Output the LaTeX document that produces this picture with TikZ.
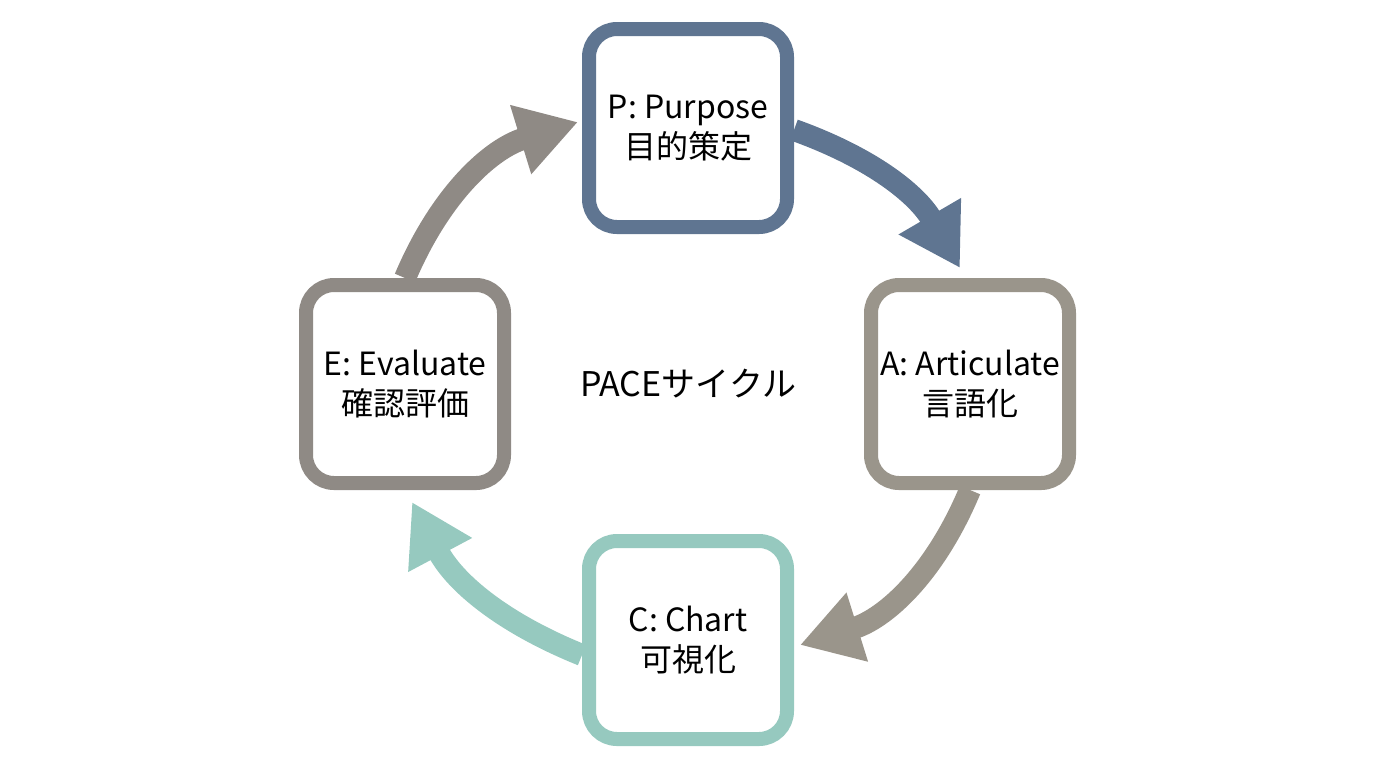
\documentclass[tikz,border=0pt]{standalone}
\usepackage{fontspec}
\setmainfont{Noto Sans CJK JP}
\usetikzlibrary{arrows.meta}
\definecolor{pacblue}{HTML}{5F7591}
\definecolor{pacgray}{HTML}{9A958B}
\definecolor{pacteal}{HTML}{96C9BF}
\definecolor{pacdark}{HTML}{8F8A85}

\begin{document}
\begin{tikzpicture}[x=0.5pt, y=-0.5pt,
    step/.style = {draw = #1, line width = 7pt, rounded corners = 14pt, fill = white,
                   minimum width = 99pt, minimum height = 99pt, align = center,
                   font = \fontsize{16}{20}\selectfont},
    flow/.style = {draw = #1, line width = 11pt,
                   -{Triangle[length = 30pt, width = 34pt]}}]
      \useasboundingbox (0, 0) rectangle (1376, 768);

      \node[step = pacblue] (p) at (688, 128) {P: Purpose\\目的策定};
      \node[step = pacgray] (a) at (970, 384) {A: Articulate\\言語化};
      \node[step = pacteal] (c) at (688, 640) {C: Chart\\可視化};
      \node[step = pacdark] (e) at (405, 384) {E: Evaluate\\確認評価};
      \node[font = \fontsize{17}{20}\selectfont] (title) at (688, 384) {PACEサイクル};

      \draw[flow = pacblue] (p.east |- 0, 130) to[bend left = 20] (960, 268);
      \draw[flow = pacgray] (a.south) ++(0, 0) coordinate (a1) (a1) to[bend left = 25] (800, 645);
      \draw[flow = pacteal] (c.west |- 0, 655) to[bend left = 20] (412, 502);
      \draw[flow = pacdark] (e.north) to[bend left = 25] (578, 122);

    \end{tikzpicture}
\end{document}
